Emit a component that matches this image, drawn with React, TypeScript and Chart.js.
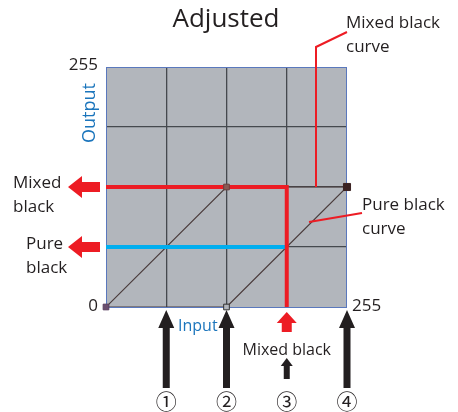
import React, { useEffect, useRef } from "react";
import { Chart, registerables } from "chart.js";

Chart.register(...registerables);

const gridTicks = [0, 63.75, 127.5, 191.25, 255];
const mixedCurveX = [0, 127.5, 255];
const mixedCurveY = [0, 127.5, 127.5];
const pureCurveX = [0, 127.5, 255];
const pureCurveY = [0, 0, 127.5];
const mixedPathX = [0, 191.25, 191.25];
const mixedPathY = [127.5, 127.5, 0];
const purePathX = [0, 191.25];
const purePathY = [63.75, 63.75];
const markerX = [0, 127.5, 127.5, 255];
const markerY = [0, 0, 127.5, 127.5];
const inputArrowX = [63.75, 127.5, 255];
const mixedInputX = 191.25;
const circledX = [63.75, 127.5, 191.25, 255];
const circledLabels = ["①", "②", "③", "④"];
const axisMin = 0;
const axisMax = 255;

const pts = (xs: number[], ys: number[]) => xs.map((x, i) => ({ x, y: ys[i] }));

const FONT = "'Open Sans', 'Noto Sans', sans-serif";
const RED = "#ed1c24";
const BLUE = "#00aeef";
const TEXT = "#231f20";

function upArrow(ctx: CanvasRenderingContext2D, x: number, tip: number, end: number, shaftW: number, headW: number, headH: number, color: string) {
  ctx.fillStyle = color;
  ctx.beginPath();
  ctx.moveTo(x, tip);
  ctx.lineTo(x + headW / 2, tip + headH);
  ctx.lineTo(x + shaftW / 2, tip + headH);
  ctx.lineTo(x + shaftW / 2, end);
  ctx.lineTo(x - shaftW / 2, end);
  ctx.lineTo(x - shaftW / 2, tip + headH);
  ctx.lineTo(x - headW / 2, tip + headH);
  ctx.closePath();
  ctx.fill();
}

function leftArrow(ctx: CanvasRenderingContext2D, y: number, tip: number, end: number, shaftH: number, headH: number, headW: number, color: string) {
  ctx.fillStyle = color;
  ctx.beginPath();
  ctx.moveTo(tip, y);
  ctx.lineTo(tip + headW, y - headH / 2);
  ctx.lineTo(tip + headW, y - shaftH / 2);
  ctx.lineTo(end, y - shaftH / 2);
  ctx.lineTo(end, y + shaftH / 2);
  ctx.lineTo(tip + headW, y + shaftH / 2);
  ctx.lineTo(tip + headW, y + headH / 2);
  ctx.closePath();
  ctx.fill();
}

const annot = {
  id: "annot",
  beforeDraw(chart: any) {
    const { ctx, chartArea: a } = chart;
    ctx.save();
    ctx.fillStyle = "#b2b6bc";
    ctx.fillRect(a.left, a.top, a.right - a.left, a.bottom - a.top);
    ctx.restore();
  },
  beforeDatasetsDraw(chart: any) {
    const { ctx, chartArea: a } = chart;
    ctx.save();
    ctx.strokeStyle = "#5a78bd";
    ctx.lineWidth = 1;
    ctx.strokeRect(a.left + 0.5, a.top + 0.5, a.right - a.left - 1, a.bottom - a.top);
    ctx.restore();
  },
  afterDraw(chart: any) {
    const { ctx, chartArea: a } = chart;
    const xs = chart.scales.x;
    const ys = chart.scales.y;
    ctx.save();
    ctx.textBaseline = "middle";
    // title
    ctx.fillStyle = TEXT;
    ctx.textAlign = "center";
    ctx.font = `26px ${FONT}`;
    ctx.fillText("Adjusted", 226, 20);
    // axis numbers
    ctx.font = `17px ${FONT}`;
    ctx.textAlign = "right";
    ctx.fillText(String(axisMax), a.left - 8, a.top - 2);
    ctx.fillText(String(axisMin), a.left - 8, a.bottom - 1);
    ctx.textAlign = "left";
    ctx.fillText(String(axisMax), a.right + 5, a.bottom - 1);
    // Output label
    ctx.save();
    ctx.fillStyle = "#1b75bc";
    ctx.font = `18px ${FONT}`;
    ctx.translate(90, 113);
    ctx.rotate(-Math.PI / 2);
    ctx.textAlign = "center";
    ctx.fillText("Output", 0, 0);
    ctx.restore();
    // Input label
    ctx.fillStyle = "#1b75bc";
    ctx.font = `16px ${FONT}`;
    ctx.textAlign = "left";
    ctx.fillText("Input", 178, 326);
    // black up arrows
    inputArrowX.forEach((v) => {
      upArrow(ctx, xs.getPixelForValue(v), a.bottom + 3, 388, 7, 16, 18, "#231f20");
    });
    // red up arrow
    const mx = xs.getPixelForValue(mixedInputX);
    upArrow(ctx, mx, a.bottom + 5, 332, 10, 20, 11, RED);
    // Mixed black label
    ctx.fillStyle = TEXT;
    ctx.font = `16px ${FONT}`;
    ctx.textAlign = "center";
    ctx.fillText("Mixed black", mx, 350);
    upArrow(ctx, mx, 358, 379, 6, 12, 8, "#231f20");
    // circled numbers
    ctx.font = `21px 'Noto Sans CJK JP', 'DejaVu Sans', sans-serif`;
    circledX.forEach((v, i) => {
      ctx.fillText(circledLabels[i], xs.getPixelForValue(v), 401);
    });
    // left red arrows
    const yMixed = ys.getPixelForValue(mixedPathY[0]);
    const yPure = ys.getPixelForValue(purePathY[0]);
    leftArrow(ctx, yMixed, 68, 100, 10, 22, 14, RED);
    leftArrow(ctx, yPure, 68, 100, 10, 22, 14, RED);
    ctx.fillStyle = TEXT;
    ctx.font = `17px ${FONT}`;
    ctx.textAlign = "left";
    ctx.fillText("Mixed", 13, 183);
    ctx.fillText("black", 13, 207);
    ctx.fillText("Pure", 26, 244);
    ctx.fillText("black", 26, 268);
    // right labels
    ctx.fillText("Mixed black", 346, 23);
    ctx.fillText("curve", 346, 47);
    ctx.fillText("Pure black", 362, 205);
    ctx.fillText("curve", 362, 229);
    // leaders
    ctx.strokeStyle = RED;
    ctx.lineWidth = 2;
    ctx.beginPath();
    ctx.moveTo(316, yMixed);
    ctx.lineTo(316, 47);
    ctx.lineTo(347, 32);
    ctx.stroke();
    ctx.beginPath();
    ctx.moveTo(309, 222);
    ctx.lineTo(362, 213);
    ctx.stroke();
    ctx.restore();
  },
};

export default function App() {
  const ref = useRef<HTMLCanvasElement>(null);
  useEffect(() => {
    if (!ref.current) return;
    const lineCol = "#4a3c3c";
    const gridCol = (c: any) => (c.tick && (c.tick.value === 0 || c.tick.value === 255) ? "rgba(0,0,0,0)" : "#45494e");
    const chart = new Chart(ref.current, {
      type: "scatter",
      data: {
        datasets: [
          { data: pts(mixedCurveX, mixedCurveY), showLine: true, borderColor: lineCol, borderWidth: 1.2, pointRadius: 0, order: 5 },
          { data: pts(pureCurveX, pureCurveY), showLine: true, borderColor: lineCol, borderWidth: 1.2, pointRadius: 0, order: 4 },
          { data: pts(purePathX, purePathY), showLine: true, borderColor: BLUE, borderWidth: 4, pointRadius: 0, order: 3 },
          { data: pts(mixedPathX, mixedPathY), showLine: true, borderColor: RED, borderWidth: 4, pointRadius: 0, borderCapStyle: "butt", borderJoinStyle: "miter", order: 2 },
          {
            data: pts(markerX, markerY),
            showLine: false,
            clip: false,
            pointStyle: "rect",
            pointRadius: [4, 4, 4, 5],
            pointBackgroundColor: ["#6b4f6f", "#b2b6bc", "#8a5a55", "#3a2222"],
            pointBorderColor: ["#5a3f5f", "#333333", "#6a4040", "#3a2222"],
            pointBorderWidth: 1,
            order: 1,
          } as any,
        ],
      },
      options: {
        animation: false,
        responsive: false,
        events: [],
        layout: { padding: { left: 106, right: 111, top: 67, bottom: 105 } },
        plugins: { legend: { display: false }, tooltip: { enabled: false }, title: { display: false } },
        scales: {
          x: {
            type: "linear",
            min: axisMin,
            max: axisMax,
            ticks: { display: false, stepSize: gridTicks[1] },
            grid: { drawTicks: false, color: gridCol, lineWidth: 1.3 },
            border: { display: false },
          },
          y: {
            type: "linear",
            min: axisMin,
            max: axisMax,
            ticks: { display: false, stepSize: gridTicks[1] },
            grid: { drawTicks: false, color: gridCol, lineWidth: 1.3 },
            border: { display: false },
          },
        },
      },
      plugins: [annot],
    });
    return () => chart.destroy();
  }, []);
  return (
    <div style={{ position: "fixed", left: 0, top: 0, width: 458, height: 412, background: "#fff" }}>
      <canvas ref={ref} width={458} height={412} />
    </div>
  );
}
